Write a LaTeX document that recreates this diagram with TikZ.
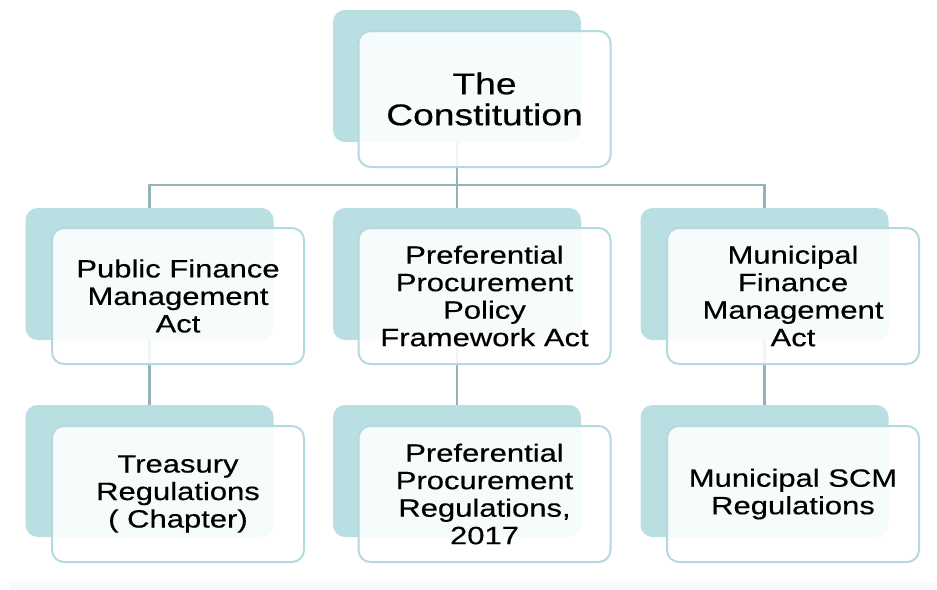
\documentclass[tikz,border=0pt]{standalone}
\usepackage{fontspec}
\setmainfont{Liberation Sans}[FakeStretch=1.24,FakeBold=0.4]
\definecolor{backteal}{HTML}{B9DFE2}
\definecolor{frontedge}{HTML}{B3DADE}
\definecolor{linkcol}{HTML}{93B3B8}
\tikzset{
  backbox/.style={draw=none, fill=backteal, rounded corners=12pt, minimum width=248pt, minimum height=132pt, inner sep=0pt, outer sep=0pt},
  frontbox/.style={draw=frontedge, line width=2pt, fill=white, fill opacity=0.88, text opacity=1, rounded corners=12pt, minimum width=252pt, minimum height=136pt, inner sep=0pt, outer sep=0pt, align=center, font=\fontsize{25}{27.5}\selectfont},
  topfont/.style={font=\fontsize{30}{31}\selectfont},
  link/.style={draw=linkcol, line width=2.5pt}
}
\begin{document}
\begin{tikzpicture}[x=1pt,y=-1pt]
\useasboundingbox (0,0) rectangle (937,589);
\fill[gray!5] (10,582) rectangle (937,589);
% back boxes
\node[backbox] (tb) at (457,76) {};
\node[backbox] (m1b) at (149.5,274) {};
\node[backbox] (m2b) at (457,274) {};
\node[backbox] (m3b) at (764.5,274) {};
\node[backbox] (b1b) at (149.5,471) {};
\node[backbox] (b2b) at (457,471) {};
\node[backbox] (b3b) at (764.5,471) {};
% connectors
\coordinate (bar) at (457,185);
\draw[link] (m1b.north) |- (bar) -| (m3b.north);
\draw[link] (tb.south) -- (bar);
\draw[link] (bar) -- (m2b.north);
\draw[link] (m1b.south) -- (b1b.north);
\draw[link] (m2b.south) -- (b2b.north);
\draw[link] (m3b.south) -- (b3b.north);
% front boxes
\node[frontbox, topfont] (tf) at (484.5,99) {The\\Constitution};
\node[frontbox] (m1f) at (178,296) {Public Finance\\Management\\Act};
\node[frontbox] (m2f) at (484.5,296) {Preferential\\Procurement\\Policy\\Framework Act};
\node[frontbox] (m3f) at (793,296) {Municipal\\Finance\\Management\\Act};
\node[frontbox] (b1f) at (178,494) {Treasury\\Regulations\\( Chapter)};
\node[frontbox] (b2f) at (484.5,494) {Preferential\\Procurement\\Regulations,\\2017};
\node[frontbox] (b3f) at (793,494) {Municipal SCM\\Regulations};
\end{tikzpicture}
\end{document}
